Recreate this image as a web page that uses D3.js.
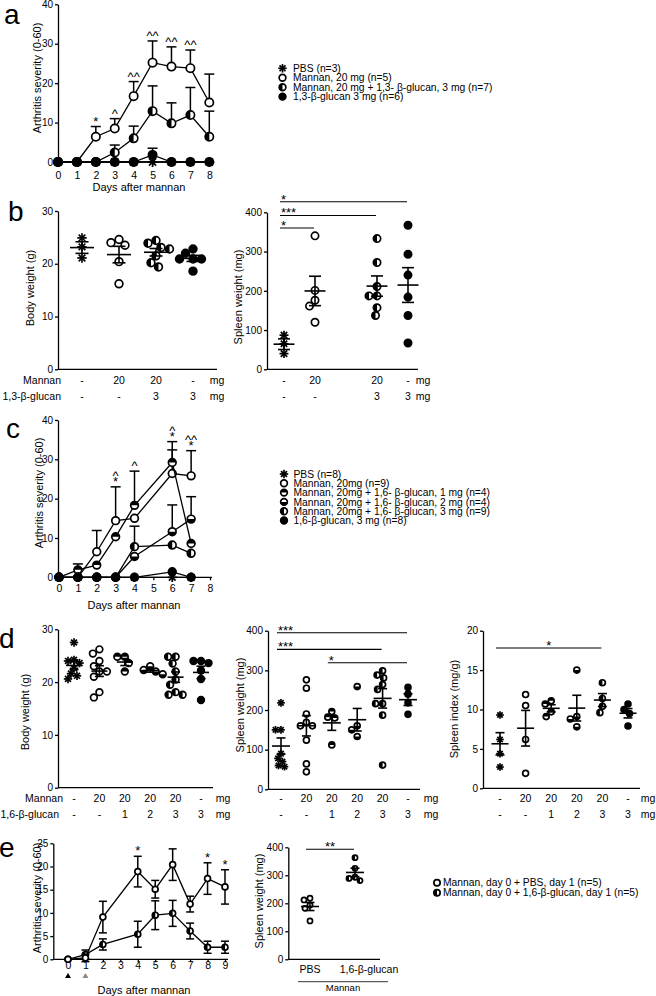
<!DOCTYPE html>
<html>
<head>
<meta charset="utf-8">
<script src="https://cdn.jsdelivr.net/npm/d3@7"></script>
<style>
  body { margin: 0; background: #fff; }
</style>
</head>
<body>
<script>
// ---------- data ----------

// a: arthritis severity after mannan, 1,3-beta-glucan study
const aDays = [0, 1, 2, 3, 4, 5, 6, 7, 8];
const aPbs = [0, 0, 0, 0, 0, 0, 0, 0, 0];
const aMannan = [0, 0, 6.4, 8.5, 16.7, 25.2, 24.2, 23.8, 15.1];
const aMannanSem = [0, 0, 2.6, 2.5, 3.7, 5.5, 5.0, 4.6, 7.2];
const aMix = [0, 0, 0, 2.4, 6.0, 12.9, 9.8, 11.9, 6.4];
const aMixSem = [0, 0, 0, 1.9, 3.1, 6.4, 5.2, 7.0, 6.5];
const aGlucan = [0, 0, 0, 0, 0, 1.8, 0, 0, 0];
const aGlucanSem = [0, 0, 0, 0, 0, 1.7, 0, 0, 0];
const aStars = [
  {day: 2, text: ["*"]}, {day: 3, text: ["^"]}, {day: 4, text: ["^^"]},
  {day: 5, text: ["^^"]}, {day: 6, text: ["^^"]}, {day: 7, text: ["^^"]}
];
const aLegend = ["PBS (n=3)", "Mannan, 20 mg (n=5)",
  "Mannan, 20 mg + 1,3- \u03b2-glucan, 3 mg (n=7)", "1,3-\u03b2-glucan 3 mg (n=6)"];

// b: body and spleen weight
const bGroups = ["PBS", "Mannan", "Mannan + 1,3-\u03b2-glucan", "1,3-\u03b2-glucan"];
const bMannanRow = ["-", "20", "20", "-"];
const bGlucanRow = ["-", "-", "3", "3"];
const bBodyPbs = [24.9, 23.2, 21.1];
const bBodyMannan = [24.6, 24.0, 23.5, 20.4, 16.2];
const bBodyMix = [24.4, 23.9, 23.1, 22.8, 21.5, 20.2, 19.4];
const bBodyGlucan = [22.8, 22.0, 20.9, 20.9, 20.9, 18.6];
const bSpleenPbs = [87, 65, 40];
const bSpleenMannan = [340, 201, 176, 161, 120];
const bSpleenMix = [333, 272, 211, 187, 187, 157, 137];
const bSpleenGlucan = [367, 293, 240, 184, 137, 67];
const bSig = [
  {from: "PBS", to: "1,3-\u03b2-glucan", label: "*", level: 427},
  {from: "PBS", to: "Mannan + 1,3-\u03b2-glucan", label: "***", level: 392},
  {from: "PBS", to: "Mannan", label: "*", level: 360}
];

// c: arthritis severity, 1,6-beta-glucan doses
const cDays = [0, 1, 2, 3, 4, 6, 7];
const cPbs = [0, 0, 0, 0, 0, 0, 0];
const cMannan = [0, 0, 6.5, 14.4, 15.0, 26.4, 25.8];
const cMannanSem = [0, 0, 5.4, 8.6, 0, 6.0, 6.4];
const c1mg = [0, 1.9, 3.1, 10.3, 18.3, 29.2, 8.6];
const c1mgSem = [0, 1.5, 0, 0, 8.7, 5.3, 0];
const c2mg = [0, 0, 0, 0, 5.3, 11.6, 14.8];
const c2mgSem = [0, 0, 0, 0, 0, 6.8, 5.7];
const c3mg = [0, 0, 0, 0, 7.8, 8.2, 6.1];
const c3mgSem = [0, 0, 0, 0, 5.2, 0, 0];
const cGlucan = [0, 0, 0, 0, 0, 1.4, 0];
const cStars = [
  {day: 3, text: ["*", "^"]}, {day: 4, text: ["^"]},
  {day: 6, text: ["*", "^"]}, {day: 7, text: ["*", "^^"]}
];
const cLegend = ["PBS (n=8)", "Mannan, 20mg (n=9)",
  "Mannan, 20mg + 1,6- \u03b2-glucan, 1 mg (n=4)",
  "Mannan, 20mg + 1,6- \u03b2-glucan, 2 mg (n=4)",
  "Mannan, 20mg + 1,6- \u03b2-glucan, 3 mg (n=9)",
  "1,6-\u03b2-glucan, 3 mg (n=8)"];

// d: body weight, spleen weight, spleen index
const dGroups = ["PBS", "Mannan", "Mannan + 1 mg", "Mannan + 2 mg", "Mannan + 3 mg", "1,6-\u03b2-glucan"];
const dMannanRow = ["-", "20", "20", "20", "20", "-"];
const dGlucanRow = ["-", "-", "1", "2", "3", "3"];
const dBody = [
  [27.5, 24.2, 24.0, 23.6, 22.6, 21.6, 21.2, 20.6],
  [26.2, 25.4, 24.0, 23.0, 22.0, 22.0, 21.0, 18.1, 17.1],
  [24.8, 24.8, 23.6, 22.0],
  [23.0, 22.3, 22.0, 21.5],
  [24.8, 24.8, 23.5, 22.0, 20.5, 19.5, 18.1, 17.6, 17.6],
  [24.0, 24.0, 23.6, 22.2, 20.6, 16.6]
];
const dSpleen = [
  [218, 150, 150, 90, 78, 70, 60, 57],
  [276, 255, 190, 169, 160, 160, 124, 64, 44],
  [196, 182, 180, 112],
  [259, 160, 150, 133],
  [299, 288, 281, 264, 252, 216, 216, 187, 61],
  [257, 240, 218, 189]
];
const dIndex = [
  [9.3, 6.2, 4.4, 2.7],
  [11.9, 10.5, 6.2, 1.9],
  [11.1, 10.7, 9.7, 9.1],
  [15.0, 9.1, 8.8, 7.8],
  [13.4, 11.4, 10.4, 9.6],
  [10.7, 10.0, 9.5, 7.9]
];
const dSpleenSig = [
  {from: "PBS", to: "1,6-\u03b2-glucan", label: "***", level: 395},
  {from: "PBS", to: "Mannan + 3 mg", label: "***", level: 353},
  {from: "Mannan + 1 mg", to: "1,6-\u03b2-glucan", label: "*", level: 319}
];
const dIndexSig = [{from: "PBS", to: "Mannan + 3 mg", label: "*", level: 17.8}];

// e: treatment on day 1
const eDays = [0, 1, 2, 4, 5, 6, 7, 8, 9];
const ePbs = [0, 0.3, 9.1, 18.9, 15.1, 20.4, 11.9, 17.4, 15.6];
const ePbsSem = [0, 0.8, 3.4, 3.3, 1.9, 3.4, 1.7, 3.4, 3.7];
const eGlucan = [0, 1.0, 3.2, 5.4, 9.5, 9.9, 6.1, 2.6, 2.6];
const eGlucanSem = [0, 1.0, 1.2, 2.8, 3.1, 2.8, 1.7, 1.3, 1.3];
const eStars = [{day: 4, text: ["*"]}, {day: 8, text: ["*"]}, {day: 9, text: ["*"]}];
const eTreatDays = [0, 1];
const eGroups = ["PBS", "1,6-\u03b2-glucan"];
const eSpleenPbs = [218, 212, 194, 182, 137];
const eSpleenGlucan = [363, 325, 293, 289, 281];
const eLegend = ["Mannan, day 0 + PBS, day 1 (n=5)", "Mannan, day 0 + 1,6-\u03b2-glucan, day 1 (n=5)"];

// ---------- drawing ----------
const FONT = '"Liberation Sans", Arial, Helvetica, sans-serif';
const AX = 1.3;
const svg = d3.select("body").append("svg")
  .attr("width", 656).attr("height", 996)
  .attr("font-family", FONT);

function drawMarker(g, type, cx, cy, r) {
  if (type === "star") {
    const s = g.append("g").attr("stroke", "#000").attr("stroke-width", 1.7);
    [0, 45, 90, 135].forEach(deg => {
      const a = deg * Math.PI / 180, dx = r * Math.cos(a), dy = r * Math.sin(a);
      s.append("line").attr("x1", cx - dx).attr("y1", cy - dy).attr("x2", cx + dx).attr("y2", cy + dy);
    });
    return;
  }
  const sw = 1.7, rr = r - sw / 2;
  g.append("circle").attr("cx", cx).attr("cy", cy).attr("r", rr)
    .attr("fill", type === "filled" ? "#000" : "#fff")
    .attr("stroke", "#000").attr("stroke-width", sw);
  const half = {
    halfL: `M${cx},${cy - rr}A${rr},${rr} 0 0 0 ${cx},${cy + rr}Z`,
    halfR: `M${cx},${cy - rr}A${rr},${rr} 0 0 1 ${cx},${cy + rr}Z`,
    halfT: `M${cx - rr},${cy}A${rr},${rr} 0 0 1 ${cx + rr},${cy}Z`,
    halfB: `M${cx - rr},${cy}A${rr},${rr} 0 0 0 ${cx + rr},${cy}Z`
  }[type];
  if (half) g.append("path").attr("d", half).attr("fill", "#000");
}

function yAxis(g, y, ax, ticks) {
  const a = g.append("g").attr("transform", `translate(${ax},0)`)
    .call(d3.axisLeft(y).tickValues(ticks).tickSize(3).tickSizeOuter(0).tickPadding(2));
  a.attr("font-family", FONT).attr("font-size", 10);
  a.selectAll("line,path").attr("stroke-width", AX);
}

function yTitle(text, cx, cy) {
  svg.append("text").attr("transform", `translate(${cx},${cy}) rotate(-90)`)
    .attr("text-anchor", "middle").attr("dy", "0.35em").attr("font-size", 11).text(text);
}

function panelLetter(t, x, y) {
  svg.append("text").attr("x", x).attr("y", y).attr("font-size", 28).text(t);
}

function legend(items, mx, tx, y0, dy, r) {
  items.forEach((it, i) => {
    const yy = y0 + i * dy;
    drawMarker(svg, it.type, mx, yy, r);
    svg.append("text").attr("x", tx).attr("y", yy).attr("dy", "0.35em")
      .attr("font-size", 10.3).text(it.text);
  });
}

// place points of one column side by side when they would overlap
function swarm(ys, cx, r, tight) {
  const order = d3.range(ys.length).sort((a, b) => ys[a] - ys[b]);
  const placed = [], xs = [];
  const minD = 2 * r * (tight ? 0.72 : 0.88);
  order.forEach(i => {
    let px = cx;
    for (let k = 0; k < 400; k++) {
      const off = (k % 2 ? -1 : 1) * Math.ceil(k / 2) * 0.5;
      if (placed.every(p => Math.hypot(p.x - (cx + off), p.y - ys[i]) >= minD)) { px = cx + off; break; }
    }
    xs[i] = px;
    placed.push({x: px, y: ys[i]});
  });
  return xs;
}

function lineChart(o) {
  const g = svg.append("g");
  const x = d3.scaleLinear().domain([o.xTicks[0], o.xTicks[o.xTicks.length - 1]]).range(o.xRange);
  const y = d3.scaleLinear().domain(o.yDomain).range(o.yRange);
  yAxis(g, y, o.axisX, o.yTicks);

  const xa = g.append("g").attr("transform", `translate(0,${o.yRange[0]})`)
    .call(d3.axisBottom(x).tickValues(o.xTicks).tickSize(3).tickFormat(d3.format("d")));
  xa.select(".domain").remove();
  xa.attr("font-family", FONT).attr("font-size", 10.5);
  xa.selectAll("line").attr("stroke-width", AX);
  xa.selectAll("text").attr("y", o.xLabelOff).attr("dy", "0.35em");
  g.append("line").attr("x1", o.axisX).attr("x2", o.xEnd)
    .attr("y1", o.yRange[0]).attr("y2", o.yRange[0])
    .attr("stroke", "#000").attr("stroke-width", AX);

  o.series.forEach(s => {
    const pts = o.days.map((d, i) => ({d, v: s.values[i], e: s.sem ? s.sem[i] : 0}));
    const eb = g.append("g").attr("stroke", "#000").attr("stroke-width", 1.5);
    pts.filter(p => p.e > 0).forEach(p => {
      const xx = x(p.d), hi = y(p.v + p.e), lo = o.both ? y(p.v - p.e) : y(p.v);
      eb.append("line").attr("x1", xx).attr("x2", xx).attr("y1", lo).attr("y2", hi);
      eb.append("line").attr("x1", xx - o.capW / 2).attr("x2", xx + o.capW / 2).attr("y1", hi).attr("y2", hi);
      if (o.both) eb.append("line").attr("x1", xx - o.capW / 2).attr("x2", xx + o.capW / 2).attr("y1", lo).attr("y2", lo);
    });
    g.append("path").datum(pts).attr("fill", "none").attr("stroke", "#000").attr("stroke-width", 1.3)
      .attr("d", d3.line().x(p => x(p.d)).y(p => y(p.v)));
    pts.forEach(p => drawMarker(g, s.type, x(p.d), y(p.v), o.r));
  });

  (o.stars || []).forEach(st => {
    const i = o.days.indexOf(st.day);
    const top = d3.min(o.series, s => y(s.values[i] + (s.sem ? s.sem[i] : 0)));
    st.text.forEach((t, k) => {
      g.append("text").attr("x", x(st.day)).attr("y", top - 1 - k * 5.5)
        .attr("text-anchor", "middle").attr("font-size", 13).text(t);
    });
  });

  g.append("text").attr("x", o.titleX).attr("y", o.titleY).attr("dy", "0.35em")
    .attr("text-anchor", "middle").attr("font-size", 11).text("Days after mannan");
  return {x, y, g};
}

function scatter(o) {
  const g = svg.append("g");
  const x = d3.scalePoint().domain(o.slots).range(o.xRange);
  const y = d3.scaleLinear().domain(o.yDomain).range(o.yRange);
  yAxis(g, y, o.axisX, o.yTicks);
  g.append("line").attr("x1", o.axisX).attr("x2", o.xEnd)
    .attr("y1", o.yRange[0]).attr("y2", o.yRange[0])
    .attr("stroke", "#000").attr("stroke-width", AX);

  o.groups.forEach(grp => {
    const cx = x(grp.name);
    const ys = grp.values.map(v => y(v));
    const xs = swarm(ys, cx, o.r, grp.type === "star");
    ys.forEach((yy, i) => drawMarker(g, grp.type, xs[i], yy, o.r));
    const m = d3.mean(grp.values);
    const se = d3.deviation(grp.values) / Math.sqrt(grp.values.length);
    const s = g.append("g").attr("stroke", "#000").attr("stroke-width", 1.6);
    s.append("line").attr("x1", cx - o.meanW / 2).attr("x2", cx + o.meanW / 2).attr("y1", y(m)).attr("y2", y(m));
    s.append("line").attr("x1", cx).attr("x2", cx).attr("y1", y(m - se)).attr("y2", y(m + se));
    [m - se, m + se].forEach(v => s.append("line").attr("x1", cx - o.capW / 2).attr("x2", cx + o.capW / 2)
      .attr("y1", y(v)).attr("y2", y(v)));
  });

  (o.rows || []).forEach((row, ri) => {
    const yy = o.rowY[ri];
    if (o.rowLabelX) {
      g.append("text").attr("x", o.rowLabelX[ri]).attr("y", yy).attr("dy", "0.35em")
        .attr("text-anchor", "end").attr("font-size", 10.5).text(row.label);
    }
    o.groups.forEach((grp, i) => {
      g.append("text").attr("x", x(grp.name)).attr("y", yy).attr("dy", "0.35em")
        .attr("text-anchor", "middle").attr("font-size", 10.5).text(row.values[i]);
    });
    g.append("text").attr("x", o.unitX).attr("y", yy).attr("dy", "0.35em")
      .attr("text-anchor", "middle").attr("font-size", 10.5).text("mg");
  });

  (o.sig || []).forEach(sg => {
    const x1 = x(sg.from) - 4, x2 = x(sg.to) - 1, yy = y(sg.level);
    g.append("line").attr("x1", x1).attr("x2", x2).attr("y1", yy).attr("y2", yy)
      .attr("stroke", "#000").attr("stroke-width", 1.1);
    const mid = o.sigAlign === "middle";
    g.append("text").attr("x", mid ? (x1 + x2) / 2 : x1 + 1).attr("y", yy + 2)
      .attr("text-anchor", mid ? "middle" : "start").attr("font-size", 13).text(sg.label);
  });
  return {x, y, g};
}

// ----- panel a -----
panelLetter("a", 4, 24);
lineChart({
  days: aDays, xTicks: aDays, xRange: [58, 209.3], axisX: 58, xEnd: 212,
  yDomain: [0, 40], yRange: [162, 4.3], yTicks: [0, 10, 20, 30, 40],
  xLabelOff: 13, titleX: 139, titleY: 187, r: 5, capW: 10,
  series: [
    {type: "star", values: aPbs},
    {type: "open", values: aMannan, sem: aMannanSem},
    {type: "halfL", values: aMix, sem: aMixSem},
    {type: "filled", values: aGlucan, sem: aGlucanSem}
  ],
  stars: aStars
});
yTitle("Arthritis severity (0-60)", 37, 78);
legend(aLegend.map((t, i) => ({text: t, type: ["star", "open", "halfL", "filled"][i]})),
  282.5, 293, 68.3, 9.45, 4.2);

// ----- panel b -----
panelLetter("b", 8, 221);
scatter({
  slots: bGroups, xRange: [82, 193], axisX: 58, xEnd: 217,
  yDomain: [0, 30], yRange: [369.3, 211], yTicks: [0, 10, 20, 30],
  r: 4.7, meanW: 24, capW: 13,
  groups: [
    {name: bGroups[0], type: "star", values: bBodyPbs},
    {name: bGroups[1], type: "open", values: bBodyMannan},
    {name: bGroups[2], type: "halfL", values: bBodyMix},
    {name: bGroups[3], type: "filled", values: bBodyGlucan}
  ],
  rows: [{label: "Mannan", values: bMannanRow}, {label: "1,3-\u03b2-glucan", values: bGlucanRow}],
  rowY: [380, 396.7], rowLabelX: [61, 61], unitX: 217
});
yTitle("Body weight (g)", 30, 288);
scatter({
  slots: [bGroups[0], bGroups[1], "gap", bGroups[2], bGroups[3]], xRange: [284, 408],
  axisX: 267, xEnd: 418,
  yDomain: [0, 400], yRange: [369.3, 212.3], yTicks: [0, 100, 200, 300, 400],
  r: 4.5, meanW: 21, capW: 12,
  groups: [
    {name: bGroups[0], type: "star", values: bSpleenPbs},
    {name: bGroups[1], type: "open", values: bSpleenMannan},
    {name: bGroups[2], type: "halfL", values: bSpleenMix},
    {name: bGroups[3], type: "filled", values: bSpleenGlucan}
  ],
  rows: [{values: bMannanRow}, {values: bGlucanRow}],
  rowY: [380, 396.7], unitX: 423,
  sig: bSig, sigAlign: "start"
});
yTitle("Spleen weight (mg)", 238.5, 297);

// ----- panel c -----
panelLetter("c", 6, 438);
lineChart({
  days: cDays, xTicks: [0, 1, 2, 3, 4, 5, 6, 7, 8], xRange: [59, 210], axisX: 58, xEnd: 212,
  yDomain: [0, 40], yRange: [577.3, 420], yTicks: [0, 10, 20, 30, 40],
  xLabelOff: 10.7, titleX: 134, titleY: 605, r: 4.7, capW: 10,
  series: [
    {type: "star", values: cPbs},
    {type: "open", values: cMannan, sem: cMannanSem},
    {type: "halfT", values: c1mg, sem: c1mgSem},
    {type: "halfB", values: c2mg, sem: c2mgSem},
    {type: "halfL", values: c3mg, sem: c3mgSem},
    {type: "filled", values: cGlucan}
  ],
  stars: cStars
});
yTitle("Arthritis severity (0-60)", 39, 493);
legend(cLegend.map((t, i) => ({text: t, type: ["star", "open", "halfT", "halfB", "halfL", "filled"][i]})),
  284, 293.5, 474, 9.3, 4.2);

// ----- panel d -----
panelLetter("d", -1, 648);
const dTypes = ["star", "open", "halfT", "halfB", "halfL", "filled"];
const dRows = [{label: "Mannan", values: dMannanRow}, {label: "1,6-\u03b2-glucan", values: dGlucanRow}];
scatter({
  slots: dGroups, xRange: [74, 201], axisX: 58, xEnd: 213,
  yDomain: [0, 30], yRange: [787.7, 629.3], yTicks: [0, 10, 20, 30],
  r: 4.2, meanW: 16, capW: 9,
  groups: dGroups.map((n, i) => ({name: n, type: dTypes[i], values: dBody[i]})),
  rows: dRows, rowY: [798.3, 814], rowLabelX: [63, 59], unitX: 223
});
yTitle("Body weight (g)", 25, 712);
scatter({
  slots: dGroups, xRange: [281, 408], axisX: 268, xEnd: 420,
  yDomain: [0, 400], yRange: [789.3, 630.7], yTicks: [0, 100, 200, 300, 400],
  r: 3.8, meanW: 18, capW: 9,
  groups: dGroups.map((n, i) => ({name: n, type: dTypes[i], values: dSpleen[i]})),
  rows: dRows, rowY: [798.3, 814], unitX: 431,
  sig: dSpleenSig, sigAlign: "start"
});
yTitle("Spleen weight (mg)", 240.5, 705);
scatter({
  slots: dGroups, xRange: [500, 628], axisX: 483, xEnd: 640,
  yDomain: [0, 20], yRange: [788.3, 630.7], yTicks: [0, 5, 10, 15, 20],
  r: 3.8, meanW: 17, capW: 9,
  groups: dGroups.map((n, i) => ({name: n, type: dTypes[i], values: dIndex[i]})),
  rows: dRows, rowY: [798.3, 814], unitX: 648,
  sig: dIndexSig, sigAlign: "middle"
});
yTitle("Spleen index (mg/g)", 454.5, 709);

// ----- panel e -----
panelLetter("e", -1, 857);
const eChart = lineChart({
  days: eDays, xTicks: [0, 1, 2, 3, 4, 5, 6, 7, 8, 9], xRange: [68, 225], axisX: 53.3, xEnd: 228,
  yDomain: [0, 25], yRange: [959.3, 843.3], yTicks: [0, 5, 10, 15, 20, 25],
  xLabelOff: 5.8, titleX: 144, titleY: 990, r: 3.8, capW: 8, both: true,
  series: [
    {type: "halfL", values: eGlucan, sem: eGlucanSem},
    {type: "open", values: ePbs, sem: ePbsSem}
  ],
  stars: eStars
});
eChart.g.selectAll(".treat").data(eTreatDays).join("path").attr("class", "treat")
  .attr("d", d => { const cx = eChart.x(d); return `M${cx - 3},978L${cx + 3},978L${cx},973Z`; })
  .attr("fill", (d, i) => i === 0 ? "#000" : "#888");
yTitle("Arthritis severity (0-60)", 37.5, 898);

const eSp = scatter({
  slots: eGroups, xRange: [310, 355], axisX: 288.3, xEnd: 380,
  yDomain: [0, 400], yRange: [959.3, 847.3], yTicks: [0, 100, 200, 300, 400],
  r: 3.4, meanW: 18, capW: 9,
  groups: [
    {name: eGroups[0], type: "open", values: eSpleenPbs},
    {name: eGroups[1], type: "halfL", values: eSpleenGlucan}
  ],
  sig: [{from: "PBS", to: "1,6-\u03b2-glucan", label: "**", level: 393}], sigAlign: "middle"
});
const eLab = d3.scalePoint().domain(eGroups).range([310, 369]);
eSp.g.selectAll(".cat").data(eGroups).join("text").attr("class", "cat")
  .attr("x", d => eLab(d)).attr("y", 969).attr("dy", "0.35em")
  .attr("text-anchor", "middle").attr("font-size", 10.5).text(d => d);
eSp.g.append("line").attr("x1", 298).attr("x2", 388).attr("y1", 981.7).attr("y2", 981.7)
  .attr("stroke", "#000").attr("stroke-width", 0.8);
eSp.g.append("text").attr("x", 343).attr("y", 987.5).attr("dy", "0.35em")
  .attr("text-anchor", "middle").attr("font-size", 9.5).text("Mannan");
yTitle("Spleen weight (mg)", 259.5, 901);
legend(eLegend.map((t, i) => ({text: t, type: ["open", "halfL"][i]})), 437, 443, 882.7, 10, 4);
</script>
</body>
</html>
